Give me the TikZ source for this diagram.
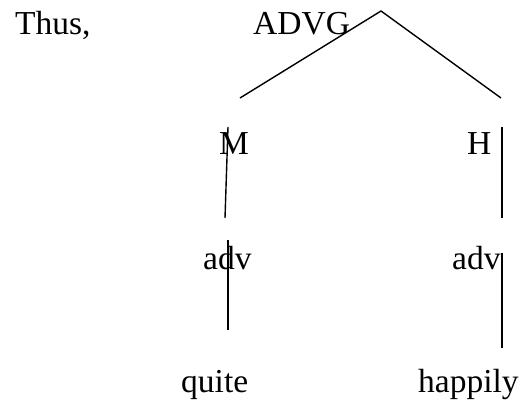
\documentclass[tikz,border=0pt]{standalone}
\usepackage{fontspec}
\setmainfont{Liberation Serif}
\begin{document}
\begin{tikzpicture}[line join=bevel,every node/.style={anchor=base west,inner sep=0pt,font=\fontsize{33.5bp}{40bp}\selectfont},branch/.style={line width=1.4bp}]
%%
\useasboundingbox (0bp,0bp) rectangle (524bp,403bp);
\node (Thus) at (15bp,368bp) {Thus,};
  \node (ADVG) at (253bp,368bp) {ADVG};
  \node (M) at (219bp,248bp) {M};
  \node (H) at (467bp,248bp) {H};
  \node (advM) at (203bp,133bp) {adv};
  \node (advH) at (452bp,133bp) {adv};
  \node (quite) at (181bp,11bp) {quite};
  \node (happily) at (418bp,11bp) {happily};
  \coordinate (Top) at (381bp,392bp);
  \coordinate (TopL) at (240bp,305bp);
  \coordinate (TopR) at (501bp,305bp);
  \coordinate (Ma) at (228bp,276bp);
  \coordinate (Mb) at (225bp,185bp);
  \coordinate (Ha) at (502bp,276bp);
  \coordinate (Hb) at (502bp,185bp);
  \coordinate (advMa) at (228bp,163bp);
  \coordinate (advMb) at (228bp,73bp);
  \coordinate (advHa) at (502bp,150bp);
  \coordinate (advHb) at (502bp,55bp);
  \draw [branch] (TopL) -- (Top) -- (TopR);
  \draw [branch] (Ma) -- (Mb);
  \draw [branch] (Ha) -- (Hb);
  \draw [branch] (advMa) -- (advMb);
  \draw [branch] (advHa) -- (advHb);
%
\end{tikzpicture}
\end{document}
